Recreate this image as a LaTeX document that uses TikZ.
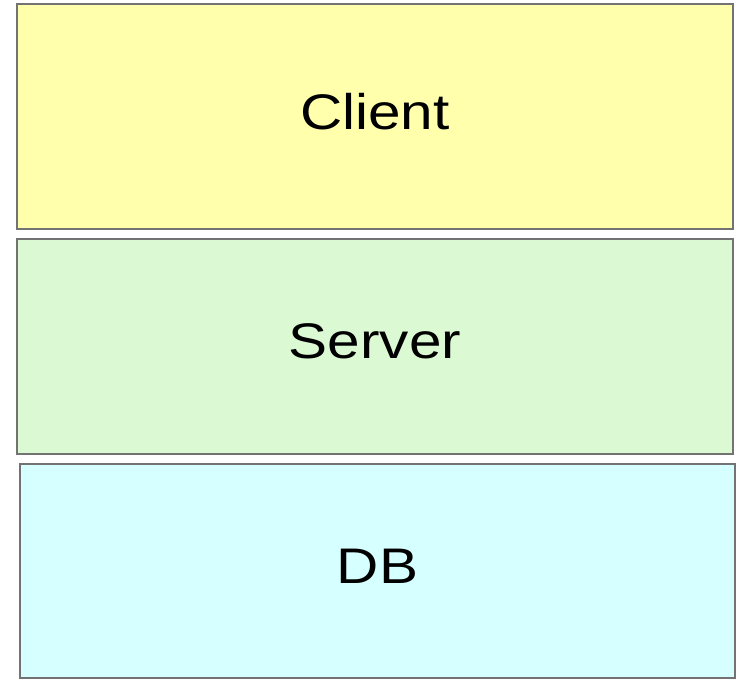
\documentclass[tikz,border=0pt]{standalone}
\usepackage{fontspec}
\setmainfont{Liberation Sans}
\usetikzlibrary{positioning}
\definecolor{clientyellow}{RGB}{255,255,172}
\definecolor{servergreen}{RGB}{219,250,212}
\definecolor{dbcyan}{RGB}{214,255,255}
\tikzset{layer/.style={draw=black!55, line width=1.2pt, inner sep=0pt,
    text depth=10pt, font=\fontsize{50}{60}\selectfont}}
\newcommand{\layertext}[1]{\scalebox{1.17}[1]{#1}}

\begin{document}
\begin{tikzpicture}[x=1pt, y=-1pt]
    \useasboundingbox (0,0) rectangle (750,688);% keep the margins
    \node[layer, fill=clientyellow, minimum width=716pt, minimum height=225pt]
        (client) at (375,116.5) {\layertext{Client}};% top layer
    \node[layer, fill=servergreen, minimum width=716pt, minimum height=215pt]
        (server) at (375,346.5) {\layertext{Server}};% middle layer
    \node[layer, fill=dbcyan, minimum width=715pt, minimum height=214pt]
        (db) at (377.5,571) {\layertext{DB}};% bottom layer
\end{tikzpicture}
\end{document}
